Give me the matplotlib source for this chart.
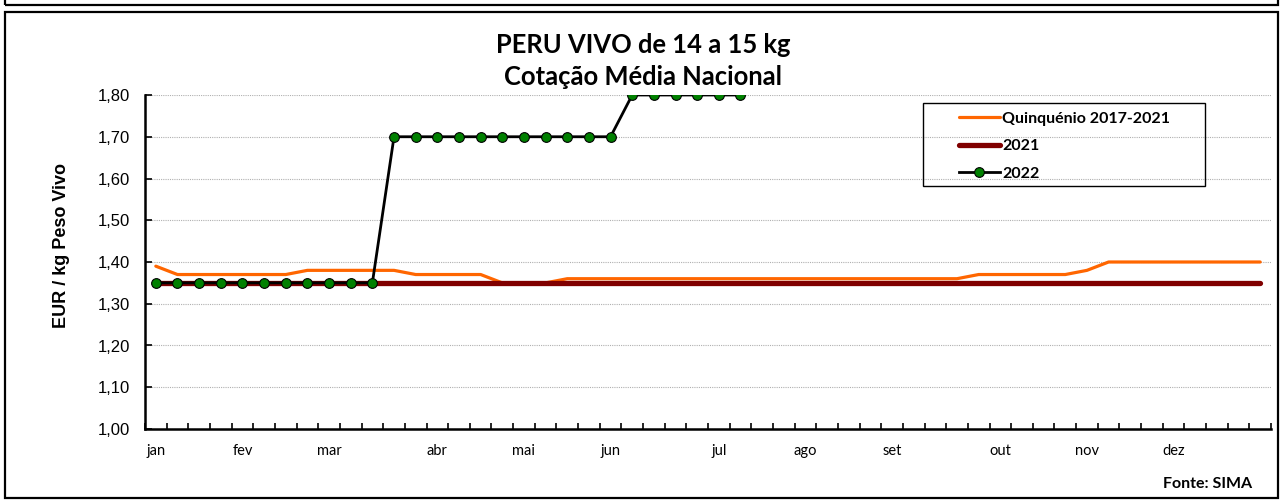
import numpy as np
import matplotlib
matplotlib.use('Agg')
import matplotlib.pyplot as plt
from matplotlib.patches import Rectangle

# 52 weeks, month label on first week of each month
months = ["jan", "fev", "mar", "abr", "mai", "jun", "jul", "ago", "set", "out", "nov", "dez"]
month_week = [0, 4, 8, 13, 17, 21, 26, 30, 34, 39, 43, 47]

quinq = [1.39, 1.37, 1.37, 1.37, 1.37, 1.37, 1.37, 1.38, 1.38, 1.38, 1.38, 1.38, 1.37,
         1.37, 1.37, 1.37, 1.35, 1.35, 1.35, 1.36, 1.36, 1.36, 1.36, 1.36, 1.36, 1.36,
         1.36, 1.36, 1.36, 1.36, 1.36, 1.36, 1.36, 1.36, 1.36, 1.36, 1.36, 1.36, 1.37,
         1.37, 1.37, 1.37, 1.37, 1.38, 1.40, 1.40, 1.40, 1.40, 1.40, 1.40, 1.40, 1.40]
y2021 = [1.35] * 52
y2022 = [1.35] * 11 + [1.70] * 11 + [1.80] * 6

weeks = np.arange(52)
labels = [""] * 52
for w, m in zip(month_week, months):
    labels[w] = m

fig = plt.figure(figsize=(12.82, 5.01), dpi=100)
ax = fig.add_axes([145/1282, 1 - 429/501, 1126/1282, 334/501])

ax.plot(weeks, quinq, color="#FF6600", lw=2.3, label="Quinquénio 2017-2021",
        solid_capstyle="round", zorder=3)
ax.plot(weeks, y2021, color="#800000", lw=3.8, label="2021",
        solid_capstyle="round", zorder=4)
ax.plot(np.arange(len(y2022)), y2022, color="black", lw=2, marker="o",
        markersize=7, markerfacecolor="#008000", markeredgecolor="black",
        markeredgewidth=0.8, label="2022", zorder=5)

ax.set_xlim(-0.5, 51.5)
ax.set_ylim(1.0, 1.8)
yt = np.arange(1.0, 1.81, 0.1)
ax.set_yticks(yt)
ax.set_yticklabels([f"{v:.2f}".replace(".", ",") for v in yt],
                   family="Liberation Sans", fontsize=12)
ax.set_xticks(weeks)
ax.set_xticklabels(labels, family="Lato", fontsize=10.5)
ax.set_xticks(np.arange(-0.5, 52, 1), minor=True)
ax.tick_params(axis="x", which="major", length=0, pad=11)
ax.tick_params(axis="x", which="minor", direction="in", length=4, width=1.2)
ax.tick_params(axis="y", direction="in", length=5, width=1.2, pad=11)
ax.grid(axis="y", color="#b0b0b0", ls=(0, (1, 1)), lw=0.8)
ax.set_axisbelow(True)
for s in ["top", "right"]:
    ax.spines[s].set_visible(False)
for s in ["left", "bottom"]:
    ax.spines[s].set_linewidth(1.8)

fig.text(61/1282, 1 - 246/501, "EUR / kg Peso Vivo", rotation=90, ha="center",
         va="center", family="Liberation Sans", fontweight="bold", fontsize=13)

# legend without frame, frame drawn separately (Excel style padding)
leg = ax.legend(loc="upper left", bbox_to_anchor=((959 - 145)/1126, (429 - 111.5)/334),
                prop={"family": "Lato", "weight": "bold", "size": 11.5},
                frameon=False, handlelength=2.55, labelspacing=0.84,
                handletextpad=0.15, borderaxespad=0, borderpad=0)
ax.add_patch(Rectangle(((923 - 145)/1126, (429 - 186)/334), 282/1126, 83/334,
                       transform=ax.transAxes, fill=False, lw=1.0,
                       edgecolor="black", zorder=6, clip_on=False))

fig.text(643/1282, 1 - 45/501, "PERU VIVO de 14 a 15 kg", ha="center", va="center",
         family="Lato", fontweight="bold", fontsize=18.4)
fig.text(643/1282, 1 - 77/501, "Cotação Média Nacional", ha="center", va="center",
         family="Lato", fontweight="bold", fontsize=18.4)
fig.text(1252/1282, 1 - 484/501, "Fonte: SIMA", ha="right", va="center",
         family="Lato", fontweight="bold", fontsize=11.5)

# outer frames
fig.patches.append(Rectangle((5/1282, 1 - 498/501), 1273/1282, 486/501,
                             transform=fig.transFigure, fill=False, lw=1.6,
                             edgecolor="black"))
fig.patches.append(Rectangle((5/1282, 1 - 5/501), 1273/1282, 20/501,
                             transform=fig.transFigure, fill=False, lw=1.6,
                             edgecolor="black"))

fig.savefig("out.png", dpi=100)
